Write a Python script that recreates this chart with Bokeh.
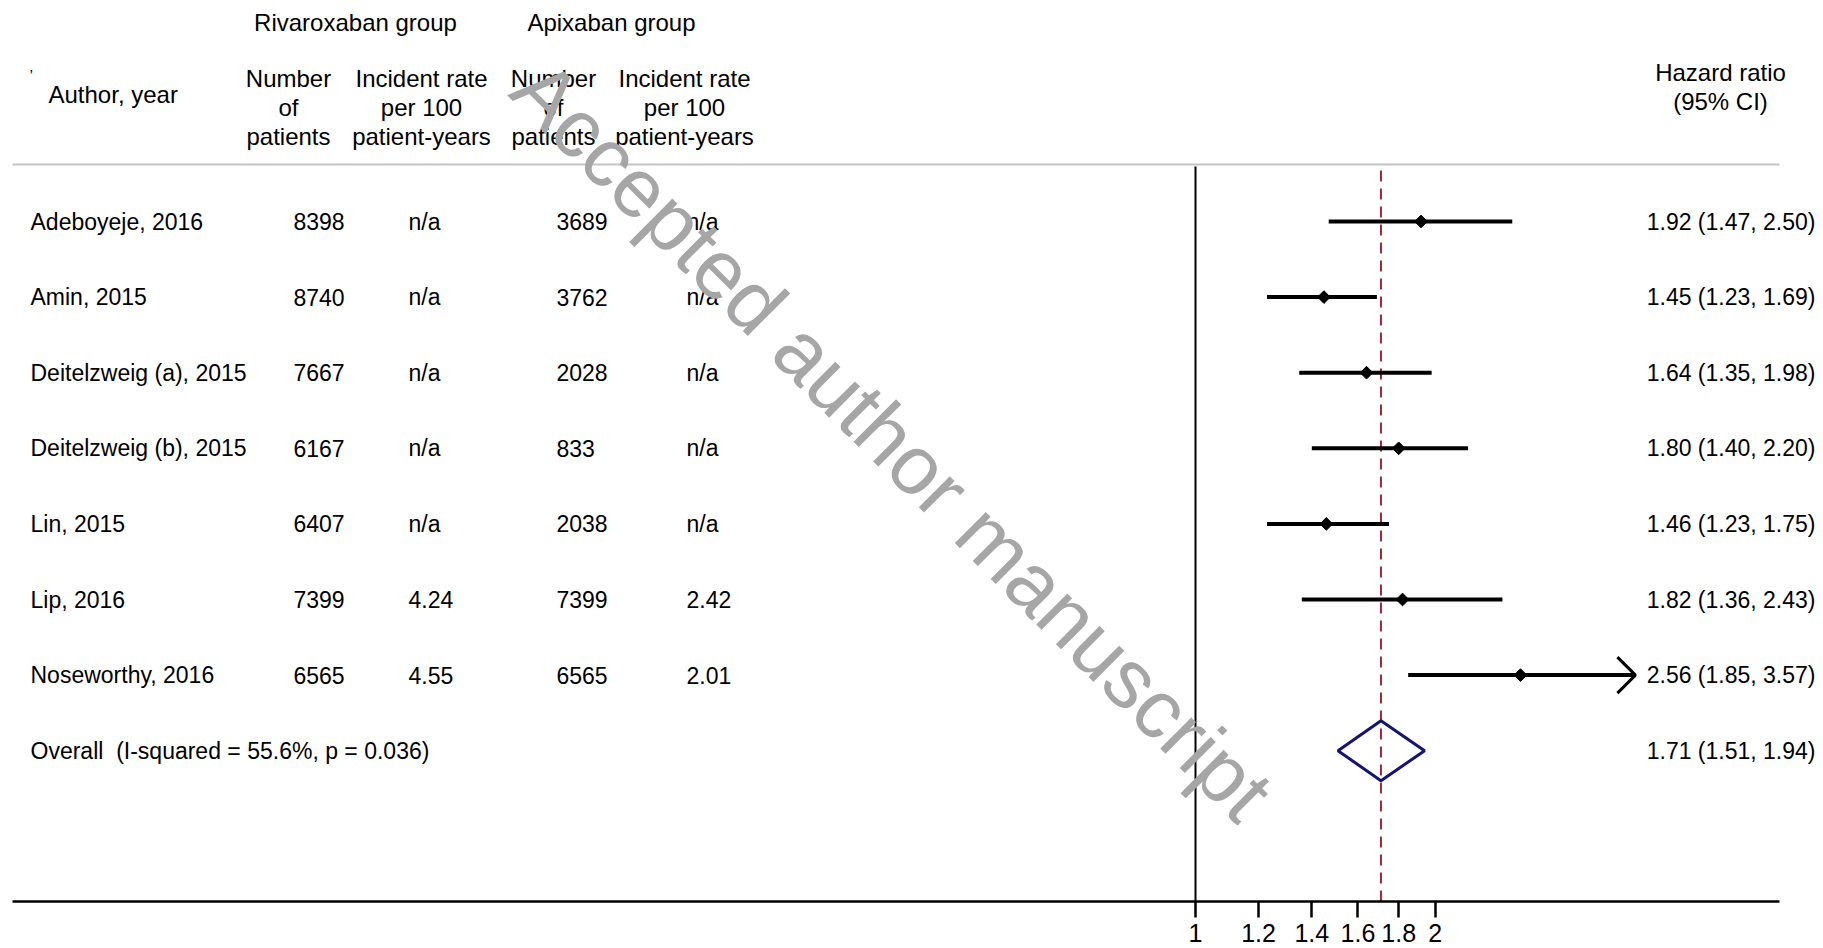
import math
from bokeh.plotting import figure
from bokeh.models import (Range1d, LogScale, LinearAxis, FixedTicker,
                          CustomJSTickFormatter, ColumnDataSource)
from bokeh.core.properties import value
from bokeh.embed import file_html
from bokeh.resources import INLINE

# ---------------- data ----------------
authors = ["Adeboyeje, 2016", "Amin, 2015", "Deitelzweig (a), 2015",
           "Deitelzweig (b), 2015", "Lin, 2015", "Lip, 2016", "Noseworthy, 2016"]
riv_n = [8398, 8740, 7667, 6167, 6407, 7399, 6565]
riv_rate = ["n/a", "n/a", "n/a", "n/a", "n/a", "4.24", "4.55"]
apx_n = [3689, 3762, 2028, 833, 2038, 7399, 6565]
apx_rate = ["n/a", "n/a", "n/a", "n/a", "n/a", "2.42", "2.01"]
hr = [1.92, 1.45, 1.64, 1.80, 1.46, 1.82, 2.56]
hr_lo = [1.47, 1.23, 1.35, 1.40, 1.23, 1.36, 1.85]
hr_hi = [2.50, 1.69, 1.98, 2.20, 1.75, 2.43, 3.57]
overall_hr = 1.71
overall_lo = 1.51
overall_hi = 1.94
i_squared = 55.6
p_het = 0.036
tick_values = [1, 1.2, 1.4, 1.6, 1.8, 2]
arrow_cutoff = 3.0  # CIs beyond this are drawn with an arrow head

# ---------------- layout (pixels) ----------------
W, H = 1823, 948
OFF = 8               # layout coordinates below are measured from (8, 8)
X_ONE = 1187          # x where HR = 1
PX_DEC = 796          # pixels per decade of HR
ROW0, ROW_STEP = 213, 75.6
AXIS_Y = 893
RULE_Y = 156
FONT_NAME = "Liberation Sans"
FONT = value(FONT_NAME)
ROW_FS = "23px"
HEAD_FS = "24px"


def hr_at(px):
    return 10 ** ((px - X_ONE) / PX_DEC)


p = figure(width=W, height=H, x_range=Range1d(-OFF, W - OFF),
           y_range=Range1d(H - OFF, -OFF),
           x_axis_type=None, y_axis_type=None, output_backend="svg",
           toolbar_location=None, min_border=0, outline_line_color=None,
           background_fill_color="white", border_fill_color="white")
p.extra_x_ranges = {"hr": Range1d(hr_at(-OFF), hr_at(W - OFF))}
p.extra_x_scales = {"hr": LogScale()}

# bottom axis (log scale)
ax = LinearAxis(x_range_name="hr",
                ticker=FixedTicker(ticks=tick_values, minor_ticks=[]),
                formatter=CustomJSTickFormatter(code="return String(tick);"),
                fixed_location=AXIS_Y, bounds=(hr_at(4), hr_at(1771)))
ax.axis_line_width = 2.5
ax.axis_line_color = "black"
ax.major_tick_line_width = 2.5
ax.major_tick_out = 16
ax.major_tick_in = 0
ax.minor_tick_out = 0
ax.minor_tick_in = 0
ax.major_label_text_font = FONT_NAME
ax.major_label_text_font_size = "25px"
ax.major_label_text_color = "black"
ax.major_label_standoff = 6
p.add_layout(ax, "below")

n = len(authors)
ys = [ROW0 + i * ROW_STEP for i in range(n)]
y_overall = ROW0 + n * ROW_STEP

src = ColumnDataSource(dict(
    y=ys, author=authors,
    rn=[str(v) for v in riv_n], rr=riv_rate,
    an=[str(v) for v in apx_n], ar=apx_rate,
    hr=hr, lo=hr_lo, hi=hr_hi,
    lab=[f"{h:.2f} ({l:.2f}, {u:.2f})" for h, l, u in zip(hr, hr_lo, hr_hi)],
))

# header rule
p.segment(x0=[4], y0=[RULE_Y], x1=[1771], y1=[RULE_Y], line_color="#c4c4c4", line_width=2)

# null line and overall dashed line
p.segment(x0=[1], y0=[RULE_Y + 2], x1=[1], y1=[AXIS_Y], x_range_name="hr",
          line_color="black", line_width=2)
p.segment(x0=[overall_hr], y0=[RULE_Y + 6], x1=[overall_hr], y1=[AXIS_Y], x_range_name="hr",
          line_color="#a3293a", line_width=2, line_dash="11 7")

# CIs and point estimates
p.segment(x0="lo", y0="y", x1="hi", y1="y", source=src, x_range_name="hr",
          line_color="black", line_width=4)
p.scatter(x="hr", y="y", source=src, x_range_name="hr", marker="square",
          angle=math.pi / 4, size=9, color="black")

# arrow heads for clipped CIs
head_back = 10 ** (-18 / PX_DEC)
for h, y in zip(hr_hi, ys):
    if h > arrow_cutoff:
        p.multi_line(xs=[[h * head_back, h, h * head_back]], ys=[[y - 18, y, y + 18]],
                     x_range_name="hr", line_color="black", line_width=3)

# overall diamond
p.patch(x=[overall_lo, overall_hr, overall_hi, overall_hr],
        y=[y_overall, y_overall - 30, y_overall, y_overall + 30],
        x_range_name="hr", fill_color=None, line_color="#141478", line_width=3)

# row texts
common = dict(source=src, text_font=FONT, text_font_size=ROW_FS,
              text_baseline="middle", text_color="black")
p.text(x=22, y="y", text="author", text_align="left", **common)
p.text(x=285, y="y", text="rn", text_align="left", **common)
p.text(x=400, y="y", text="rr", text_align="left", **common)
p.text(x=548, y="y", text="an", text_align="left", **common)
p.text(x=678, y="y", text="ar", text_align="left", **common)
p.text(x=1807, y="y", text="lab", text_align="right", **common)

p.text(x=[22], y=[y_overall],
       text=[f"Overall\u00a0 (I-squared = {i_squared:.1f}%, p = {p_het:.3f})"],
       text_font=FONT, text_font_size=ROW_FS, text_baseline="middle", text_align="left")
p.text(x=[1807], y=[y_overall],
       text=[f"{overall_hr:.2f} ({overall_lo:.2f}, {overall_hi:.2f})"],
       text_font=FONT, text_font_size=ROW_FS, text_baseline="middle", text_align="right")

# headers
hcommon = dict(text_font=FONT, text_font_size=HEAD_FS, text_baseline="middle",
               text_align="center", text_color="black")
p.text(x=[347, 603], y=[14, 14], text=["Rivaroxaban group", "Apixaban group"], **hcommon)
col_x = [280, 413, 545, 676]
col_lines = [["Number", "of", "patients"],
             ["Incident rate", "per 100", "patient-years"],
             ["Number", "of", "patients"],
             ["Incident rate", "per 100", "patient-years"]]
line_y = [70, 99, 128]
hx, hy, ht = [], [], []
for cx, lines in zip(col_x, col_lines):
    for ly, t in zip(line_y, lines):
        hx.append(cx)
        hy.append(ly)
        ht.append(t)
p.text(x=hx, y=hy, text=ht, **hcommon)
p.text(x=[1712, 1712], y=[64, 93], text=["Hazard ratio", "(95% CI)"], **hcommon)
p.text(x=[40], y=[86], text=["Author, year"], text_font=FONT, text_font_size=HEAD_FS,
       text_baseline="middle", text_align="left")
p.text(x=[21], y=[68], text=["\u2019"], text_font=FONT, text_font_size="16px",
       text_baseline="middle", text_align="left")

# watermark
p.text(x=[884], y=[432], text=["Accepted author manuscript"], angle=-math.pi / 4,
       text_font=FONT, text_font_size="83px", text_color="#a6a6a6",
       text_align="center", text_baseline="middle")

open("out.html", "w").write(file_html(p, INLINE))
